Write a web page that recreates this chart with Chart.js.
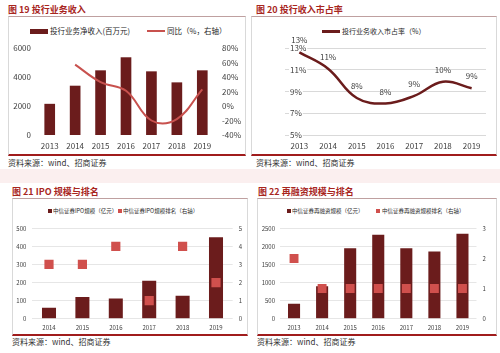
<!DOCTYPE html>
<html>
<head>
<meta charset="utf-8">
<script src="https://cdn.jsdelivr.net/npm/chart.js@4.4.1/dist/chart.umd.min.js"></script>
<style>
    body { margin: 0; width: 500px; height: 353px; position: relative; overflow: hidden; background: #fff; font-family: "Noto Sans CJK SC", sans-serif; }
    .abs { position: absolute; }
    .title { font-size: 9px; font-weight: bold; color: #A8261E; white-space: nowrap; line-height: 12px; }
    .src { font-size: 8px; color: #333; white-space: nowrap; line-height: 10px; }
    .box { border-left: 1px solid #D9D9D9; border-right: 1px solid #D9D9D9; border-top: 1px solid #BFA0A0; border-bottom: 2px solid #A01C1C; box-sizing: border-box; }
    .lg { color: #262626; white-space: nowrap; }
    canvas { position: absolute; }
</style>
</head>
<body>
<div class="abs" style="left:0;top:169px;width:500px;height:14px;background:#FBEFEF"></div>

<div class="abs box" style="left:8px;top:16px;width:238px;height:140px"></div>
<div class="abs box" style="left:251px;top:16px;width:246px;height:140px"></div>
<div class="abs box" style="left:12px;top:198px;width:236px;height:138px"></div>
<div class="abs box" style="left:257px;top:198px;width:240px;height:138px"></div>

<div class="abs title" style="left:8px;top:4px">图 19 投行业务收入</div>
<div class="abs title" style="left:256px;top:4px">图 20 投行收入市占率</div>
<div class="abs title" style="left:12px;top:186px">图 21 IPO 规模与排名</div>
<div class="abs title" style="left:258px;top:186px">图 22 再融资规模与排名</div>

<div class="abs src" style="left:8px;top:158px">资料来源：wind、招商证券</div>
<div class="abs src" style="left:256px;top:158px">资料来源：wind、招商证券</div>
<div class="abs src" style="left:12px;top:337px">资料来源：wind、招商证券</div>
<div class="abs src" style="left:257px;top:337px">资料来源：wind、招商证券</div>

<!-- legends -->
<div class="abs" style="left:30px;top:29px;width:18px;height:5px;background:#6B1C1C"></div>
<div class="abs lg" style="left:50px;top:26px;font-size:7.5px;line-height:10px">投行业务净收入(百万元)</div>
<div class="abs" style="left:147px;top:30px;width:18px;height:2px;background:#C8514E"></div>
<div class="abs lg" style="left:167px;top:26px;font-size:7.5px;line-height:10px">同比（%，右轴）</div>

<div class="abs" style="left:322px;top:30px;width:18px;height:2.5px;background:#6B1C1C"></div>
<div class="abs lg" style="left:342px;top:26px;font-size:7px;line-height:10px">投行业务收入市占率（%）</div>

<div class="abs" style="left:48px;top:209px;width:4px;height:4px;background:#6B1C1C"></div>
<div class="abs lg" style="left:53px;top:207px;font-size:5.5px;line-height:8px">中信证券IPO规模（亿元）</div>
<div class="abs" style="left:118px;top:209px;width:4px;height:4px;background:#D0504D"></div>
<div class="abs lg" style="left:123px;top:207px;font-size:5.5px;line-height:8px">中信证券IPO规模排名（右轴）</div>

<div class="abs" style="left:287px;top:209px;width:4px;height:4px;background:#6B1C1C"></div>
<div class="abs lg" style="left:292px;top:207px;font-size:5.5px;line-height:8px">中信证券再融资规模（亿元）</div>
<div class="abs" style="left:376px;top:209px;width:4px;height:4px;background:#D0504D"></div>
<div class="abs lg" style="left:382px;top:207px;font-size:5.5px;line-height:8px">中信证券再融资规模排名（右轴）</div>

<canvas id="c19" width="236" height="137" style="left:9px;top:17px"></canvas>
<canvas id="c20" width="244" height="137" style="left:252px;top:17px"></canvas>
<canvas id="c21" width="234" height="135" style="left:13px;top:199px"></canvas>
<canvas id="c22" width="238" height="135" style="left:258px;top:199px"></canvas>

<script>
// data
const years = ['2013', '2014', '2015', '2016', '2017', '2018', '2019'];
const ibRevenue = [2150, 3400, 4460, 5360, 4390, 3630, 4460];
const ibYoY = [null, 57, 33, 21, -20, -18, 23];
const ibShare = [12.6, 11.1, 8.4, 7.9, 8.6, 9.9, 9.3];

const ipoYears = ['2014', '2015', '2016', '2017', '2018', '2019'];
const ipoAmount = [60, 120, 112, 210, 127, 450];
const ipoRank = [3, 3, 4, 1, 4, 2];

const refiYears = ['2013', '2014', '2015', '2016', '2017', '2018', '2019'];
const refiAmount = [410, 900, 1950, 2320, 1950, 1860, 2350];
const refiRank = [2, 1, 1, 1, 1, 1, 1];

const MAROON = '#6B1C1C';
const LINE_RED = '#C8514E';
const RANK_RED = '#D0504D';
const TICK = '#404040';

Chart.defaults.font.family = '"Noto Sans CJK SC", sans-serif';
Chart.defaults.animation = false;

// category labels keep the default callback
function xTicks(size, padding) {
    return { font: { size: size }, color: TICK, padding: padding, maxRotation: 0, autoSkip: false };
}

// value ticks: plain numbers, no thousands separator
function yTicks(size, padding, extra) {
    return Object.assign(xTicks(size, padding), { callback: v => v }, extra || {});
}

function fixWidth(w) {
    return scale => { scale.width = w; };
}

function fixHeight(h) {
    return scale => { scale.height = h; };
}

const noGrid = { display: false, drawTicks: false };
const noBorder = { display: false };

const baseOptions = top => ({
    responsive: false,
    layout: { padding: { top: top, left: 0, right: 0, bottom: 0 } },
    plugins: { legend: { display: false }, tooltip: { enabled: false } }
});

// 图 19
new Chart(document.getElementById('c19'), {
    type: 'bar',
    data: {
        labels: years,
        datasets: [
            {
                type: 'line', data: ibYoY, yAxisID: 'y1', order: 0,
                borderColor: LINE_RED, borderWidth: 2, tension: 0.4, pointRadius: 0
            },
            {
                type: 'bar', data: ibRevenue, yAxisID: 'y', order: 1,
                backgroundColor: MAROON, barPercentage: 0.42, categoryPercentage: 1
            }
        ]
    },
    options: Object.assign(baseOptions(31), {
        scales: {
            x: { grid: noGrid, border: noBorder, ticks: xTicks(8, 6), afterFit: fixHeight(19) },
            y: {
                position: 'left', min: 0, max: 6000, grid: noGrid, border: noBorder,
                ticks: yTicks(8, 6, { stepSize: 2000 }), afterFit: fixWidth(28)
            },
            y1: {
                position: 'right', min: -40, max: 80, grid: noGrid, border: noBorder,
                ticks: yTicks(8, 7, { stepSize: 20, callback: v => v + '%' }), afterFit: fixWidth(30)
            }
        }
    })
});

// 图 20
const shareLabels = {
    id: 'shareLabels',
    afterDatasetsDraw(chart) {
        const ctx = chart.ctx;
        ctx.save();
        ctx.font = '8px "Noto Sans CJK SC"';
        ctx.fillStyle = TICK;
        ctx.textAlign = 'center';
        ctx.textBaseline = 'middle';
        chart.getDatasetMeta(0).data.forEach((pt, i) => {
            ctx.fillText(Math.round(ibShare[i]) + '%', pt.x, pt.y - 12);
        });
        ctx.restore();
    }
};

new Chart(document.getElementById('c20'), {
    type: 'line',
    data: {
        labels: years,
        datasets: [{
            data: ibShare, borderColor: MAROON, borderWidth: 2.5, tension: 0.4, pointRadius: 0
        }]
    },
    options: Object.assign(baseOptions(31), {
        layout: { padding: { top: 31, left: 0, right: 10, bottom: 0 } },
        scales: {
            x: { offset: true, grid: noGrid, border: noBorder, ticks: xTicks(8, 6), afterFit: fixHeight(19) },
            y: {
                min: 5, max: 13, border: noBorder,
                grid: { color: '#D9D9D9', drawTicks: false },
                ticks: yTicks(8, 5, {
                    stepSize: 2, mirror: true, callback: v => v + '%',
                    showLabelBackdrop: true, backdropColor: '#fff', backdropPadding: 1
                }),
                afterFit: fixWidth(33)
            }
        }
    }),
    plugins: [shareLabels]
});

// 图 21
new Chart(document.getElementById('c21'), {
    type: 'bar',
    data: {
        labels: ipoYears,
        datasets: [
            {
                type: 'line', data: ipoRank, yAxisID: 'y1', order: 0, showLine: false,
                pointStyle: 'rect', pointRadius: 6.5, pointBackgroundColor: RANK_RED, pointBorderWidth: 0
            },
            {
                type: 'bar', data: ipoAmount, yAxisID: 'y', order: 1,
                backgroundColor: MAROON, barPercentage: 0.42, categoryPercentage: 1
            }
        ]
    },
    options: Object.assign(baseOptions(29.3), {
        scales: {
            x: { grid: noGrid, border: noBorder, ticks: xTicks(6, 5), afterFit: fixHeight(15.3) },
            y: {
                position: 'left', min: 0, max: 500, border: noBorder,
                grid: { color: '#E6E6E6', drawTicks: false },
                ticks: yTicks(6, 6, { stepSize: 100 }), afterFit: fixWidth(19.3)
            },
            y1: {
                position: 'right', min: 0, max: 5, grid: noGrid, border: noBorder,
                ticks: yTicks(6, 6, { stepSize: 1 }), afterFit: fixWidth(14.3)
            }
        }
    })
});

// 图 22
new Chart(document.getElementById('c22'), {
    type: 'bar',
    data: {
        labels: refiYears,
        datasets: [
            {
                type: 'line', data: refiRank, yAxisID: 'y1', order: 0, showLine: false,
                pointStyle: 'rect', pointRadius: 6.3, pointBackgroundColor: RANK_RED, pointBorderWidth: 0
            },
            {
                type: 'bar', data: refiAmount, yAxisID: 'y', order: 1,
                backgroundColor: MAROON, barPercentage: 0.43, categoryPercentage: 1
            }
        ]
    },
    options: Object.assign(baseOptions(29.3), {
        scales: {
            x: { grid: noGrid, border: noBorder, ticks: xTicks(6, 5), afterFit: fixHeight(15.3) },
            y: {
                position: 'left', min: 0, max: 2500, border: noBorder,
                grid: { color: '#E6E6E6', drawTicks: false },
                ticks: yTicks(6, 5, { stepSize: 500 }), afterFit: fixWidth(22)
            },
            y1: {
                position: 'right', min: 0, max: 3, grid: noGrid, border: noBorder,
                ticks: yTicks(6, 6, { stepSize: 1 }), afterFit: fixWidth(19.5)
            }
        }
    })
});
</script>
</body>
</html>
